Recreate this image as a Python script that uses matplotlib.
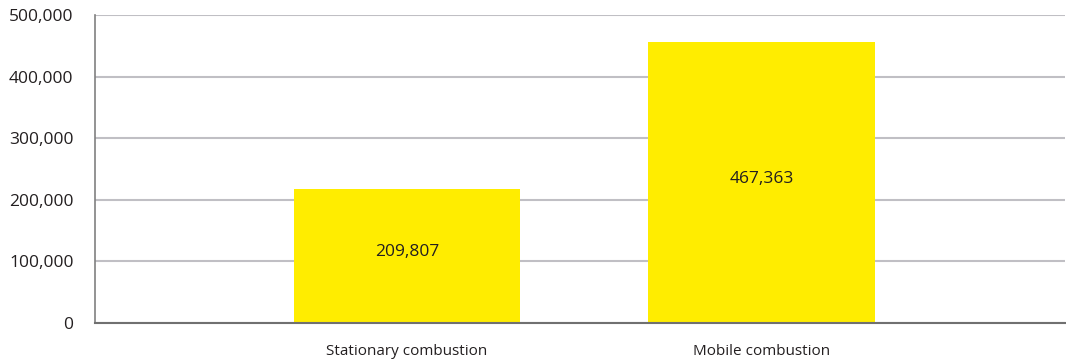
import matplotlib
matplotlib.use("Agg")
import matplotlib.pyplot as plt
from matplotlib.ticker import FuncFormatter

categories = ["Stationary combustion", "Mobile combustion"]
bar_heights = [217500, 456000]
bar_labels = ["209,807", "467,363"]
yticks = [0, 100000, 200000, 300000, 400000, 500000]

plt.rcParams['font.family'] = ['Open Sans', 'DejaVu Sans']
text_color = "#231f20"

fig = plt.figure(figsize=(10.66, 3.64), dpi=100)
ax = fig.add_axes([95/1066, 41/364, 970/1066, 308/364])

x = list(range(len(categories)))
bars = ax.bar(x, bar_heights, width=0.64, color="#FFED00", zorder=3)
for b, lab in zip(bars, bar_labels):
    ax.text(b.get_x() + b.get_width()/2, b.get_height()/2 + 6000, lab,
            ha="center", va="center", fontsize=12.5, color=text_color, zorder=4)

ax.set_xlim(-0.88, 1.856)
ax.set_ylim(0, 500000)
ax.set_yticks(yticks)
ax.yaxis.set_major_formatter(FuncFormatter(lambda v, p: f"{int(v):,}"))
ax.set_xticks(x)
ax.set_xticklabels(categories)
ax.tick_params(axis="y", length=0, pad=15.5, labelsize=12.5, labelcolor=text_color)
ax.tick_params(axis="x", length=0, pad=15, labelsize=11, labelcolor=text_color)
ax.grid(axis="y", color="#c0bfc4", linewidth=1.5, zorder=0)
ax.set_axisbelow(True)
for s in ["top", "right"]:
    ax.spines[s].set_visible(False)
ax.spines["left"].set_color("#808080")
ax.spines["left"].set_linewidth(1.2)
ax.spines["bottom"].set_color("#707070")
ax.spines["bottom"].set_linewidth(1.5)
ax.spines["bottom"].set_zorder(5)

fig.savefig("out.png", dpi=100)
